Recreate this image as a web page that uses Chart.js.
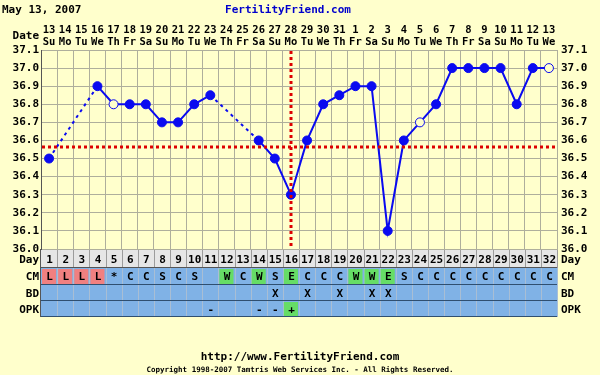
<!DOCTYPE html>
<html>
<head>
<meta charset="utf-8">
<script src="https://cdn.jsdelivr.net/npm/chart.js@4"></script>
<style>
  html, body { margin: 0; padding: 0; background: #ffffcc; }
  canvas { display: block; }
</style>
</head>
<body>
<canvas id="bbtChart" width="600" height="375"></canvas>
<script>
// Cycle data
const cycleDays = ['1','2','3','4','5','6','7','8','9','10','11','12','13','14','15','16',
  '17','18','19','20','21','22','23','24','25','26','27','28','29','30','31','32'];
const dateLabels = ['13','14','15','16','17','18','19','20','21','22','23','24','25','26','27','28',
  '29','30','31','1','2','3','4','5','6','7','8','9','10','11','12','13'];
const weekdays = ['Su','Mo','Tu','We','Th','Fr','Sa','Su','Mo','Tu','We','Th','Fr','Sa','Su','Mo',
  'Tu','We','Th','Fr','Sa','Su','Mo','Tu','We','Th','Fr','Sa','Su','Mo','Tu','We'];
const temps = [36.5, null, null, 36.9, 36.8, 36.8, 36.8, 36.7, 36.7, 36.8, 36.85, null, null, 36.6, 36.5, 36.3,
  36.6, 36.8, 36.85, 36.9, 36.9, 36.1, 36.6, 36.7, 36.8, 37.0, 37.0, 37.0, 37.0, 36.8, 37.0, 37.0];
const openDays = [5, 24, 32]; // discarded temps, drawn hollow
const cmValues = ['L','L','L','L','*','C','C','S','C','S','','W','C','W','S','E',
  'C','C','C','W','W','E','S','C','C','C','C','C','C','C','C','C'];
const bdValues = ['','','','','','','','','','','','','','','X','',
  'X','','X','','X','X','','','','','','','','','',''];
const opkValues = ['','','','','','','','','','','-','','','-','-','+',
  '','','','','','','','','','','','','','','',''];
const coverline = 36.565;
const ovulationDay = 16;
const yMin = 36.0, yMax = 37.1;

const BLUE = '#0a0af0';
const FONT = '"DejaVu Sans Mono", monospace';

// Background, red lines, fertility table and page texts
const extras = {
  id: 'extras',
  beforeDraw(chart) {
    const ctx = chart.ctx;
    ctx.save();
    ctx.fillStyle = '#ffffcc';
    ctx.fillRect(0, 0, chart.width, chart.height);
    ctx.restore();
  },
  afterDatasetsDraw(chart) {
    const { ctx, chartArea: a, scales } = chart;
    ctx.save();
    ctx.strokeStyle = '#dd0000';
    ctx.lineWidth = 3;
    ctx.setLineDash([3, 3]);
    const yc = Math.round(scales.y.getPixelForValue(coverline));
    ctx.beginPath();
    ctx.moveTo(a.left + 1, yc);
    ctx.lineTo(a.right, yc);
    ctx.stroke();
    const xo = Math.round(scales.x.getPixelForValue(ovulationDay - 1));
    ctx.beginPath();
    ctx.moveTo(xo, a.top + 1);
    ctx.lineTo(xo, a.bottom);
    ctx.stroke();
    ctx.restore();
  },
  afterDraw(chart) {
    const { ctx, chartArea: a, scales } = chart;
    const x = scales.x;
    const half = (x.getPixelForValue(1) - x.getPixelForValue(0)) / 2;
    const rows = [
      { label: 'Day', values: cycleDays, h: 18, fill: '#e6e6e6' },
      { label: 'CM', values: cmValues, h: 17, fill: '#80b2e6' },
      { label: 'BD', values: bdValues, h: 16, fill: '#80b2e6' },
      { label: 'OPK', values: opkValues, h: 16, fill: '#80b2e6' }
    ];
    ctx.save();
    ctx.textAlign = 'center';
    ctx.textBaseline = 'middle';
    let top = a.bottom + 1;
    rows.forEach((row, r) => {
      // row background
      ctx.fillStyle = row.fill;
      ctx.fillRect(a.left, top, a.right - a.left, row.h);
      row.values.forEach((v, i) => {
        const cx = x.getPixelForValue(i);
        let bg = null;
        if (r === 1 && v === 'L') bg = '#f08080';
        if (r === 1 && (v === 'W' || v === 'E')) bg = '#66dd66';
        if (r === 3 && v === '+') bg = '#66dd66';
        if (bg) {
          ctx.fillStyle = bg;
          ctx.fillRect(cx - half + 1, top + 1, half * 2 - 2, row.h - 2);
        }
        // cell separators
        ctx.fillStyle = r === 0 ? '#9c9c9c' : '#a9bed4';
        ctx.fillRect(Math.round(cx + half), top, 1, row.h);
        if (v) {
          ctx.fillStyle = '#000';
          ctx.font = 'bold 11px ' + FONT;
          ctx.fillText(v, cx + 0.5, top + row.h / 2 + 1);
        }
      });
      // side labels
      ctx.font = 'bold 11px ' + FONT;
      ctx.fillStyle = '#000';
      ctx.textAlign = 'right';
      ctx.fillText(row.label, a.left - 2, top + row.h / 2 + 1);
      ctx.textAlign = 'left';
      ctx.fillText(row.label, a.right + 4, top + row.h / 2 + 1);
      ctx.textAlign = 'center';
      top += row.h;
      // row divider
      ctx.fillStyle = r === 0 ? '#555555' : '#2f4f70';
      ctx.fillRect(a.left, top - 1, a.right - a.left, r === 3 ? 1 : 2);
    });
    ctx.fillStyle = '#555';
    ctx.fillRect(a.left - 1, a.bottom, 1, top - a.bottom);

    // header and footer
    ctx.fillStyle = '#000';
    ctx.font = 'bold 11px ' + FONT;
    ctx.textAlign = 'left';
    ctx.fillText('May 13, 2007', 2, 10);
    ctx.textAlign = 'right';
    ctx.fillText('Date', a.left - 2, 36);
    ctx.fillStyle = '#0000cc';
    ctx.textAlign = 'center';
    ctx.fillText('FertilityFriend.com', 288, 10);
    ctx.fillStyle = '#000';
    ctx.fillText('http://www.FertilityFriend.com', 300, 357);
    ctx.font = 'bold 7.5px ' + FONT;
    ctx.fillText('Copyright 1998-2007 Tamtris Web Services Inc. - All Rights Reserved.', 300, 370);
    ctx.restore();
  }
};

const tickFont = { family: FONT, size: 11, weight: 'bold' };
const gridColor = '#aeae9c';

new Chart(document.getElementById('bbtChart'), {
  type: 'line',
  data: {
    labels: cycleDays,
    datasets: [{
      data: temps,
      borderColor: BLUE,
      borderWidth: 2,
      spanGaps: true,
      pointRadius: 4.5,
      pointHoverRadius: 4.5,
      pointBorderWidth: 1,
      pointBorderColor: BLUE,
      pointBackgroundColor: cycleDays.map(d => openDays.includes(+d) ? '#ffffcc' : BLUE),
      segment: {
        // dashed where the line jumps over missing temperatures
        borderDash: c => (temps[c.p0DataIndex] == null || c.p0.skip || c.p1.skip) ? [3, 4] : undefined
      }
    }, {
      // second x axis needs a dataset link
      data: [],
      xAxisID: 'xTop',
      yAxisID: 'yRight'
    }]
  },
  options: {
    responsive: false,
    animation: false,
    layout: { padding: 0 },
    plugins: { legend: { display: false }, tooltip: { enabled: false } },
    scales: {
      x: {
        type: 'category',
        position: 'bottom',
        offset: true,
        grid: { offset: true, color: gridColor, drawTicks: false },
        border: { display: false },
        ticks: { display: false },
        afterFit: s => { s.height = 126; }
      },
      xTop: {
        type: 'category',
        position: 'top',
        labels: dateLabels.map((d, i) => [d, weekdays[i]]),
        offset: true,
        grid: { display: false, drawTicks: false },
        border: { display: false },
        ticks: {
          autoSkip: false, maxRotation: 0, padding: 2, color: '#000',
          font: { family: FONT, size: 10.5, weight: 'bold', lineHeight: 1.15 }
        },
        afterFit: s => { s.height = 50; }
      },
      y: {
        position: 'left',
        min: yMin,
        max: yMax,
        grid: { color: gridColor, drawTicks: false },
        border: { color: '#555' },
        ticks: {
          stepSize: 0.1, padding: 2, color: '#000', font: tickFont,
          callback: v => Number(v).toFixed(1)
        },
        afterFit: s => { s.width = 41; }
      },
      yRight: {
        position: 'right',
        min: yMin,
        max: yMax,
        grid: { display: false, drawTicks: false },
        border: { color: gridColor },
        ticks: {
          stepSize: 0.1, padding: 4, color: '#000', font: tickFont,
          callback: v => Number(v).toFixed(1)
        },
        afterFit: s => { s.width = 43; }
      }
    }
  },
  plugins: [extras]
});
</script>
</body>
</html>
